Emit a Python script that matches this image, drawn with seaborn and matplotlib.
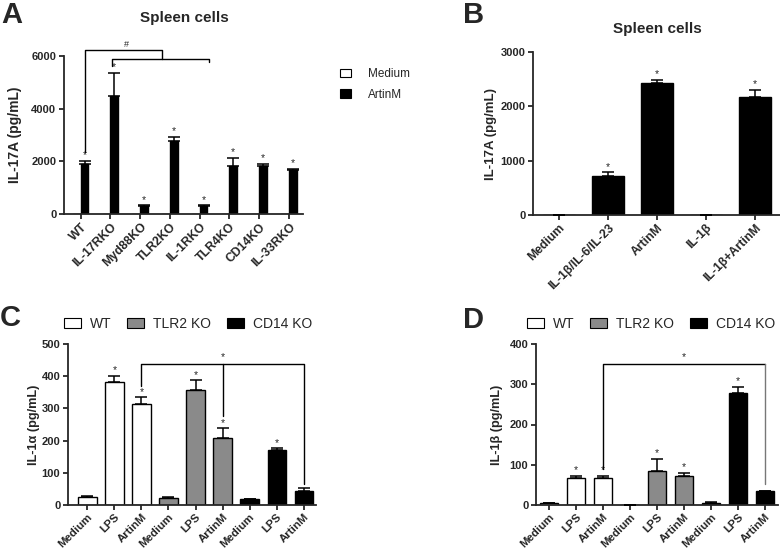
import numpy as np
import pandas as pd
import matplotlib
matplotlib.use("Agg")
import matplotlib.pyplot as plt
import seaborn as sns
from matplotlib.patches import Patch

# ---------------- data ----------------
a_groups = ["WT", "IL-17RKO", "Myd88KO", "TLR2KO", "IL-1RKO", "TLR4KO", "CD14KO", "IL-33RKO"]
a_medium = [5, 5, 5, 15, 5, 5, 5, 5]
a_artinm = [1880, 4470, 300, 2780, 300, 1830, 1810, 1660]
a_artinm_err = [150, 880, 30, 140, 25, 300, 100, 50]

b_labels = ["Medium", "IL-1β/IL-6/IL-23", "ArtinM", "IL-1β", "IL-1β+ArtinM"]
b_values = [0, 725, 2435, 8, 2170]
b_err = [0, 60, 55, 0, 135]
b_star = [False, True, True, False, True]

cd_treat = ["Medium", "LPS", "ArtinM"] * 3
cd_geno = ["WT"] * 3 + ["TLR2 KO"] * 3 + ["CD14 KO"] * 3
c_values = [26, 383, 315, 22, 357, 207, 18, 171, 44]
c_err = [3, 17, 19, 4, 30, 31, 2, 5, 9]
d_values = [4, 67, 68, 1, 85, 72, 6, 278, 35]
d_err = [1, 5, 4, 0, 30, 7, 1, 16, 1]
cd_star = [False, True, True, False, True, True, False, True, False]

# ---------------- style ----------------
sns.set_style("ticks")
plt.rcParams["font.family"] = ["Liberation Sans", "DejaVu Sans"]
plt.rcParams["axes.linewidth"] = 1.3
plt.rcParams["xtick.major.width"] = 1.3
plt.rcParams["ytick.major.width"] = 1.3
plt.rcParams["xtick.major.size"] = 3.5
plt.rcParams["ytick.major.size"] = 3.5
plt.rcParams["xtick.major.pad"] = 1.5
plt.rcParams["ytick.major.pad"] = 2

W, H = 780, 552
fig = plt.figure(figsize=(W / 100, H / 100), dpi=100)


def px_axes(l, t, r, b):
    return fig.add_axes([l / W, 1 - b / H, (r - l) / W, (b - t) / H])


axA = px_axes(64, 56, 303, 214)
axB = px_axes(533, 52, 780, 215)
axC = px_axes(68, 344, 316, 505)
axD = px_axes(536, 344, 778, 505)


def errbars(ax, xs, vals, errs):
    ax.errorbar(xs, vals, yerr=[np.zeros(len(errs)), errs], fmt="none",
                ecolor="black", elinewidth=1.1, capsize=4.5, capthick=1.1, zorder=3)


def stars(ax, xs, tops, flags, size=7.5):
    for x, t, f in zip(xs, tops, flags):
        if f:
            ax.annotate("*", (x, t), xytext=(0, 0.5), textcoords="offset points",
                        ha="center", va="bottom", fontsize=size)


def style_axis(ax, ylabel, ticks, label_x, label_size, xsize=8.8):
    sns.despine(ax=ax)
    ax.set_yticks(ticks)
    ax.set_ylim(ticks[0], ticks[-1])
    ax.set_ylabel(ylabel, fontsize=label_size, fontweight="bold")
    ax.yaxis.set_label_coords(label_x, 0.5)
    ax.set_xlabel("")
    for lab in ax.get_yticklabels():
        lab.set_fontsize(8)
        lab.set_fontweight("bold")
    for lab in ax.get_xticklabels():
        lab.set_fontsize(xsize)
        lab.set_fontweight("bold")
        lab.set_rotation(45)
        lab.set_ha("right")
        lab.set_rotation_mode("anchor")


def bracket(ax, pts, color="black"):
    xs, ys = zip(*pts)
    ax.plot(xs, ys, color=color, lw=1.0, clip_on=False, zorder=4)


# ---------------- Panel A ----------------
dfA = pd.DataFrame({
    "group": a_groups * 2,
    "cond": ["Medium"] * len(a_groups) + ["ArtinM"] * len(a_groups),
    "value": a_medium + a_artinm,
})
sns.barplot(data=dfA, x="group", y="value", hue="cond", hue_order=["Medium", "ArtinM"],
            palette={"Medium": "white", "ArtinM": "black"}, width=0.52,
            edgecolor="black", linewidth=1, errorbar=None, legend=False, ax=axA)
xa = [p.get_x() + p.get_width() / 2 for p in axA.containers[1]]
errbars(axA, xa, a_artinm, a_artinm_err)
stars(axA, xa, np.array(a_artinm) + np.array(a_artinm_err), [True] * len(a_groups))
axA.set_xlim(-0.56, 7.47)
style_axis(axA, "IL-17A (pg/mL)", [0, 2000, 4000, 6000], -0.176, 10)
bracket(axA, [(0.13, 2370), (0.13, 6230), (2.72, 6230), (2.72, 5890)])
bracket(axA, [(1.04, 5620), (1.04, 5890), (4.32, 5890), (4.32, 5790)])
axA.text(1.55, 6260, "#", ha="center", va="bottom", fontsize=6.5)
axA.legend(handles=[Patch(facecolor="white", edgecolor="black", lw=0.8),
                    Patch(facecolor="black", edgecolor="black", lw=0.8)],
           labels=["Medium", "ArtinM"], loc="upper left",
           bbox_to_anchor=(340 / W, 1 - 68 / H), bbox_transform=fig.transFigure,
           frameon=False, fontsize=8.5, handlelength=0.95, handleheight=0.75,
           handletextpad=1.45, labelspacing=0.75, borderpad=0, borderaxespad=0)

# ---------------- Panel B ----------------
dfB = pd.DataFrame({"cond": b_labels, "value": b_values})
sns.barplot(data=dfB, x="cond", y="value", color="black", width=0.67,
            edgecolor="black", linewidth=1, errorbar=None, ax=axB)
xb = [p.get_x() + p.get_width() / 2 for p in axB.containers[0]]
errbars(axB, xb, b_values, b_err)
stars(axB, xb, np.array(b_values) + np.array(b_err), b_star)
axB.set_xlim(-0.53, 4.51)
style_axis(axB, "IL-17A (pg/mL)", [0, 1000, 2000, 3000], -0.146, 9.5)


# ---------------- Panels C & D ----------------
def cd_panel(ax, values, errs, ylabel, ticks, label_x, xlim):
    pos = [f"{g}|{t}" for g, t in zip(cd_geno, cd_treat)]
    df = pd.DataFrame({"pos": pos, "geno": cd_geno, "value": values})
    sns.barplot(data=df, x="pos", y="value", hue="geno", dodge=False,
                hue_order=["WT", "TLR2 KO", "CD14 KO"],
                palette={"WT": "white", "TLR2 KO": "#8a8a8a", "CD14 KO": "black"},
                width=0.67, edgecolor="black", linewidth=1, errorbar=None,
                legend=False, ax=ax)
    xs = np.arange(len(values))
    errbars(ax, xs, values, errs)
    stars(ax, xs, np.array(values) + np.array(errs), cd_star)
    ax.set_xticks(xs)
    ax.set_xticklabels(cd_treat)
    ax.set_xlim(*xlim)
    style_axis(ax, ylabel, ticks, label_x, 9.2, xsize=8.2)


cd_panel(axC, c_values, c_err, "IL-1α (pg/mL)", [0, 100, 200, 300, 400, 500], -0.113, (-0.72, 8.46))
bracket(axC, [(2, 369), (2, 439), (8, 439), (8, 65)])
bracket(axC, [(5, 439), (5, 276)])
axC.text(5, 443, "*", ha="center", va="bottom", fontsize=7.5)

cd_panel(axD, d_values, d_err, "IL-1β (pg/mL)", [0, 100, 200, 300, 400], -0.136, (-0.49, 8.49))
bracket(axD, [(2, 89), (2, 351), (8, 351)])
bracket(axD, [(8, 351), (8, 52)], color="#777777")
axD.text(5, 356, "*", ha="center", va="bottom", fontsize=7.5)

cd_handles = [Patch(facecolor="white", edgecolor="black", lw=0.8),
              Patch(facecolor="#8a8a8a", edgecolor="black", lw=0.8),
              Patch(facecolor="black", edgecolor="black", lw=0.8)]
for x0 in (64, 527):
    fig.legend(handles=cd_handles, labels=["WT", "TLR2 KO", "CD14 KO"],
               loc="center left", bbox_to_anchor=(x0 / W, 1 - 324 / H),
               ncol=3, frameon=False, fontsize=10, handlelength=1.2, handleheight=0.75,
               handletextpad=0.65, columnspacing=1.15, borderpad=0, borderaxespad=0)

# ---------------- titles & panel letters ----------------
fig.text(184 / W, 1 - 22 / H, "Spleen cells", ha="center", va="baseline", fontsize=11, fontweight="bold")
fig.text(657 / W, 1 - 33 / H, "Spleen cells", ha="center", va="baseline", fontsize=11, fontweight="bold")
for lx, ly, letter in [(1, 23, "A"), (463, 23, "B"), (0, 326, "C"), (463, 328, "D")]:
    fig.text(lx / W, 1 - ly / H, letter, ha="left", va="baseline", fontsize=21, fontweight="bold")

fig.savefig("out.png", dpi=100)
